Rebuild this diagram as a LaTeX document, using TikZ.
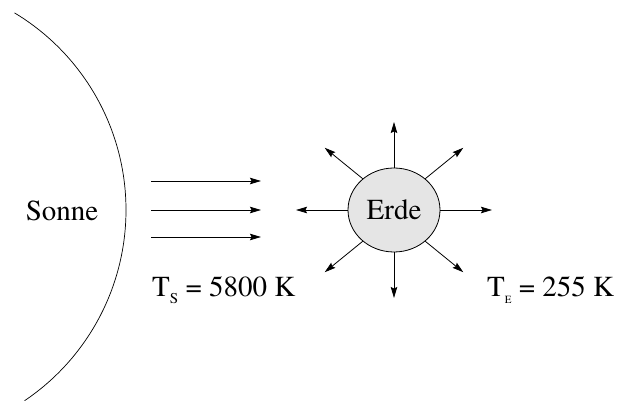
\documentclass[tikz,border=0pt]{standalone}
\usepackage{fontspec}
\setmainfont{TeX Gyre Termes}
\usepackage{tikz}
\usetikzlibrary{arrows.meta,shapes.geometric,positioning}
\tikzset{ray/.style={line width=0.8pt,-{Stealth[length=11pt,width=6.5pt,inset=1.5pt]}},
  lbl/.style={font=\fontsize{29}{34}\selectfont,inner sep=0pt}}
\newcommand{\subsc}[2]{\raisebox{-7pt}{\fontsize{#1}{#1}\selectfont #2}}
\begin{document}
\begin{tikzpicture}[x=1pt,y=1pt]
  \useasboundingbox (0,0) rectangle (626,401);
  \coordinate (sunc) at (-104,191);
  \draw[line width=0.7pt] (sunc) ++(59:230) arc[start angle=59,end angle=-56,radius=230];
  \node[lbl] (sonne) at (62,190) {Sonne};
  \node[ellipse,draw,line width=0.8pt,fill=black!10,inner sep=0pt,minimum width=92pt,minimum height=84pt,lbl] (erde) at (394,191) {Erde};
  \foreach \y [count=\i] in {220,191,164} {
    \coordinate (s\i) at (151,\y);
    \coordinate (e\i) at (261,\y);
    \draw[ray] (s\i) -- (e\i);
  }
  \foreach \a in {0,45,...,315} {
    \path (erde.center) ++(\a:98 and 88) coordinate (t\a);
    \draw[ray] (erde.\a) -- (t\a);
  }
  \node[lbl,anchor=base west] (ts) at (152,104) {T\subsc{15}{S} = 5800 K};
  \node[lbl,anchor=base west] (te) at (487,104) {T\subsc{11}{E} = 255 K};
\end{tikzpicture}
\end{document}
